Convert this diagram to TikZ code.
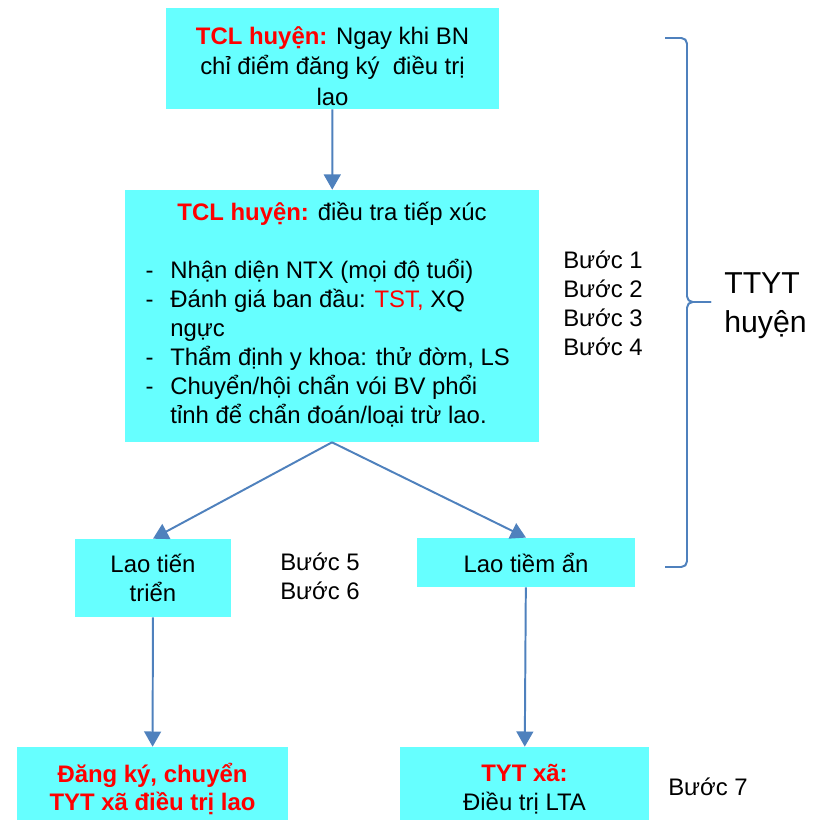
\documentclass[tikz,border=0pt]{standalone}
\usepackage{fontspec}
\setmainfont{Liberation Sans}
\usetikzlibrary{arrows.meta}
\definecolor{boxcyan}{HTML}{66FFFF}
\definecolor{linkblue}{HTML}{4F81BD}
\definecolor{hired}{HTML}{FF0000}
\begin{document}
\begin{tikzpicture}[x=0.025cm,y=-0.025cm,
  every node/.style={font=\fontsize{17}{20.6}\selectfont,inner sep=0pt},
  box/.style={fill=boxcyan,align=center},
  link/.style={draw=linkblue,line width=1.4pt,-{Triangle[width=4.2mm,length=3.8mm]}}]
\useasboundingbox (0,0) rectangle (825,820);
\clip (0,0) rectangle (825,820);
\node[box,minimum width=8.33cm,minimum height=2.53cm,font=\fontsize{17}{21.4}\selectfont] (start) at (332.5,58.5) {\rule{0pt}{0.83cm}\textcolor{hired}{\textbf{TCL huyện:}} Ngay khi BN\\chỉ điểm đăng ký\ \ điều trị\\lao};
\node[box,minimum width=10.35cm,minimum height=6.3cm] (trace) at (332,316) {\begin{tabular}{@{}p{0.62cm}@{}p{8.7cm}@{}}
\multicolumn{2}{@{}c@{}}{\textcolor{hired}{\textbf{TCL huyện:}} điều tra tiếp xúc}\\
\\
- & Nhận diện NTX (mọi độ tuổi)\\
- & Đánh giá ban đầu: \textcolor{hired}{TST,} XQ\newline ngực\\
- & Thẩm định y khoa: thử đờm, LS\\
- & Chuyển/hội chẩn vói BV phổi\newline tỉnh để chẩn đoán/loại trừ lao.
\end{tabular}};
\node[box,minimum width=3.9cm,minimum height=1.95cm] (active) at (153,578) {Lao tiến\\triển};
\node[box,minimum width=5.45cm,minimum height=1.23cm] (latent) at (526,562.5) {Lao tiềm ẩn};
\node[box,minimum width=6.78cm,minimum height=2.1cm,text=hired,font=\fontsize{17}{20.6}\selectfont\bfseries] (refer) at (152.5,789) {Đăng ký, chuyển\\TYT xã điều trị lao};
\node[box,minimum width=6.23cm,minimum height=2.1cm] (treat) at (524.5,789) {\textcolor{hired}{\textbf{TYT xã:}}\\Điều trị LTA};
\node[anchor=west,align=left] (steps1) at (563,303.5) {Bước 1\\Bước 2\\Bước 3\\Bước 4};
\node[anchor=west,align=left] (steps5) at (280,576) {Bước 5\\Bước 6};
\node[anchor=west] (step7) at (668,787) {Bước 7};
\node[anchor=west,align=left,font=\fontsize{21.5}{27.5}\selectfont] (ttyt) at (724,306) {TTYT\\huyện};
\draw[link] (start) -- (trace);
\draw[link] (trace.south) -- (active.north);
\draw[link] (trace.south) -- (latent.north);
\draw[link] (active) -- (refer);
\draw[link] (latent) -- (treat);
% brace round the district part
\draw[linkblue,line width=1.4pt,rounded corners=4pt] (665,38) -- (687,38) -- (687,302) -- (711,302);
\draw[linkblue,line width=1.4pt,rounded corners=4pt] (711,302) -- (687,302) -- (687,567) -- (665,567);
\end{tikzpicture}
\end{document}
